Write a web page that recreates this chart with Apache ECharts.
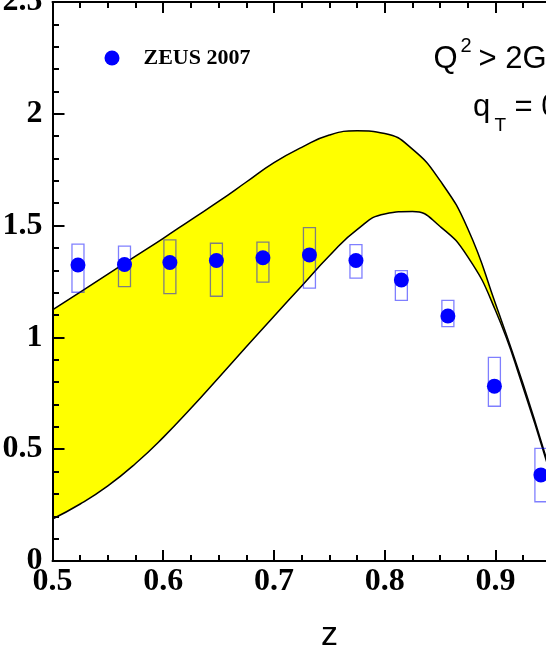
<!DOCTYPE html>
<html>
<head>
<meta charset="utf-8">
<script src="https://cdn.jsdelivr.net/npm/echarts@6.0.0/dist/echarts.min.js"></script>
<style>
  html, body { margin: 0; padding: 0; background: #fff; }
  #chart { width: 546px; height: 654px; }
</style>
</head>
<body>
<div id="chart"></div>
<script>
// theory band, sampled in z
const bandZ = [0.500, 0.525, 0.550, 0.575, 0.600, 0.625, 0.650, 0.675, 0.700, 0.725,
  0.750, 0.775, 0.800, 0.825, 0.850, 0.875, 0.900, 0.925, 0.950]
const bandUpper = [1.123, 1.203, 1.283, 1.363, 1.443, 1.526, 1.608, 1.695, 1.782, 1.85,
  1.905, 1.924, 1.912, 1.842, 1.701, 1.486, 1.15, 0.79, 0.39]
const bandLower = [0.188, 0.255, 0.336, 0.436, 0.553, 0.683, 0.82, 0.958, 1.095, 1.23,
  1.365, 1.482, 1.552, 1.563, 1.496, 1.36, 1.12, 0.775, 0.38]

// ZEUS 2007 data points with systematic boxes
const zeusZ = [0.523, 0.565, 0.606, 0.648, 0.690, 0.732, 0.774, 0.815, 0.857, 0.899, 0.941]
const zeusVal = [1.324, 1.326, 1.335, 1.344, 1.356, 1.369, 1.344, 1.257, 1.096, 0.782, 0.385]
const zeusLow = [1.202, 1.227, 1.196, 1.184, 1.247, 1.220, 1.265, 1.166, 1.048, 0.692, 0.265]
const zeusHigh = [1.417, 1.408, 1.436, 1.421, 1.426, 1.491, 1.415, 1.299, 1.166, 0.911, 0.504]

const yTicks = ['0', '0.5', '1', '1.5', '2', '2.5']

const serif = 'Liberation Serif'
const sans = 'Liberation Sans'

const chart = echarts.init(document.getElementById('chart'), null, { renderer: 'canvas' })

const upperData = bandZ.map((z, i) => [z, bandUpper[i]])
const lowerData = bandZ.map((z, i) => [z, bandLower[i]])
const boxData = zeusZ.map((z, i) => [z, zeusLow[i], zeusHigh[i]])
const pointData = zeusZ.map((z, i) => [z, zeusVal[i]])

const tickStyle = { color: '#000', width: 2 }

const option = {
  animation: false,
  backgroundColor: '#fff',
  grid: { left: 52.5, top: 2, width: 553.75, height: 559, outerBoundsMode: 'none' },
  legend: {
    data: ['ZEUS 2007'],
    left: 104.5,
    top: 47,
    padding: 0,
    icon: 'circle',
    itemWidth: 15,
    itemHeight: 15,
    textStyle: {
      fontFamily: serif, fontWeight: 'bold', fontSize: 22, color: '#000',
      padding: [0, 0, 0, 19]
    }
  },
  xAxis: [{
    type: 'value',
    min: 0.5,
    max: 1.0,
    interval: 0.1,
    z: 10,
    name: 'z',
    nameLocation: 'middle',
    nameGap: 75,
    nameTextStyle: { fontFamily: sans, fontSize: 34, color: '#000', verticalAlign: 'middle' },
    axisLine: { lineStyle: tickStyle },
    axisTick: { inside: true, length: 11, lineStyle: tickStyle },
    minorTick: { show: true, splitNumber: 4, length: 6, lineStyle: tickStyle },
    splitLine: { show: false },
    axisLabel: {
      margin: 5,
      fontFamily: serif, fontWeight: 'bold', fontSize: 32, color: '#000',
      formatter: v => v.toFixed(1)
    }
  }, {
    type: 'value',
    position: 'top',
    min: 0.5,
    max: 1.0,
    interval: 0.1,
    z: 10,
    axisLine: { lineStyle: tickStyle },
    axisTick: { inside: true, length: 11, lineStyle: tickStyle },
    minorTick: { show: true, splitNumber: 4, length: 6, lineStyle: tickStyle },
    splitLine: { show: false },
    axisLabel: { show: false }
  }],
  yAxis: {
    type: 'value',
    min: 0,
    max: 2.5,
    interval: 0.5,
    z: 10,
    axisLine: { show: true, lineStyle: tickStyle },
    axisTick: { show: true, inside: true, length: 12, lineStyle: tickStyle },
    minorTick: { show: true, splitNumber: 5, length: 6.5, lineStyle: tickStyle },
    splitLine: { show: false },
    axisLabel: {
      margin: 10,
      fontFamily: serif, fontWeight: 'bold', fontSize: 32, color: '#000',
      formatter: (v, i) => yTicks[i]
    }
  },
  series: [{
    // yellow down to zero from the upper edge
    name: 'upper',
    type: 'line',
    data: upperData,
    smooth: 0.5,
    symbol: 'none',
    lineStyle: { color: '#000', width: 1.5 },
    areaStyle: { color: '#ffff00', opacity: 1, origin: 'start' },
    z: 1
  }, {
    // white below the lower edge leaves the band
    name: 'lower',
    type: 'line',
    data: lowerData,
    smooth: 0.5,
    symbol: 'none',
    lineStyle: { color: '#000', width: 1.5 },
    areaStyle: { color: '#ffffff', opacity: 1, origin: 'start' },
    z: 2
  }, {
    name: 'boxes',
    type: 'custom',
    data: boxData,
    encode: { x: 0, y: [1, 2] },
    renderItem: (params, api) => {
      const top = api.coord([api.value(0), api.value(2)])
      const bottom = api.coord([api.value(0), api.value(1)])
      return {
        type: 'rect',
        shape: { x: top[0] - 6, y: top[1], width: 12, height: bottom[1] - top[1] },
        style: { fill: 'none', stroke: 'rgba(0,0,255,0.5)', lineWidth: 1.3 }
      }
    },
    z: 3
  }, {
    name: 'ZEUS 2007',
    type: 'scatter',
    data: pointData,
    symbol: 'circle',
    symbolSize: 15,
    itemStyle: { color: '#0000ff', opacity: 1 },
    z: 4
  }],
  graphic: [
    { type: 'text', x: 433.5, y: 59.3, style: { text: 'Q', fontFamily: sans, fontSize: 31, fill: '#000', verticalAlign: 'middle' } },
    { type: 'text', x: 460.5, y: 46, style: { text: '2', fontFamily: sans, fontSize: 20, fill: '#000', verticalAlign: 'middle' } },
    { type: 'text', x: 478.5, y: 59.3, style: { text: '> 2GeV', fontFamily: sans, fontSize: 31, fill: '#000', verticalAlign: 'middle' } },
    { type: 'text', x: 473, y: 107, style: { text: 'q', fontFamily: sans, fontSize: 31, fill: '#000', verticalAlign: 'middle' } },
    { type: 'text', x: 494.5, y: 125.5, style: { text: 'T', fontFamily: sans, fontSize: 19, fill: '#000', verticalAlign: 'middle' } },
    { type: 'text', x: 506, y: 107, style: { text: ' = 0', fontFamily: sans, fontSize: 31, fill: '#000', verticalAlign: 'middle' } }
  ]
}

chart.setOption(option)
</script>
</body>
</html>
